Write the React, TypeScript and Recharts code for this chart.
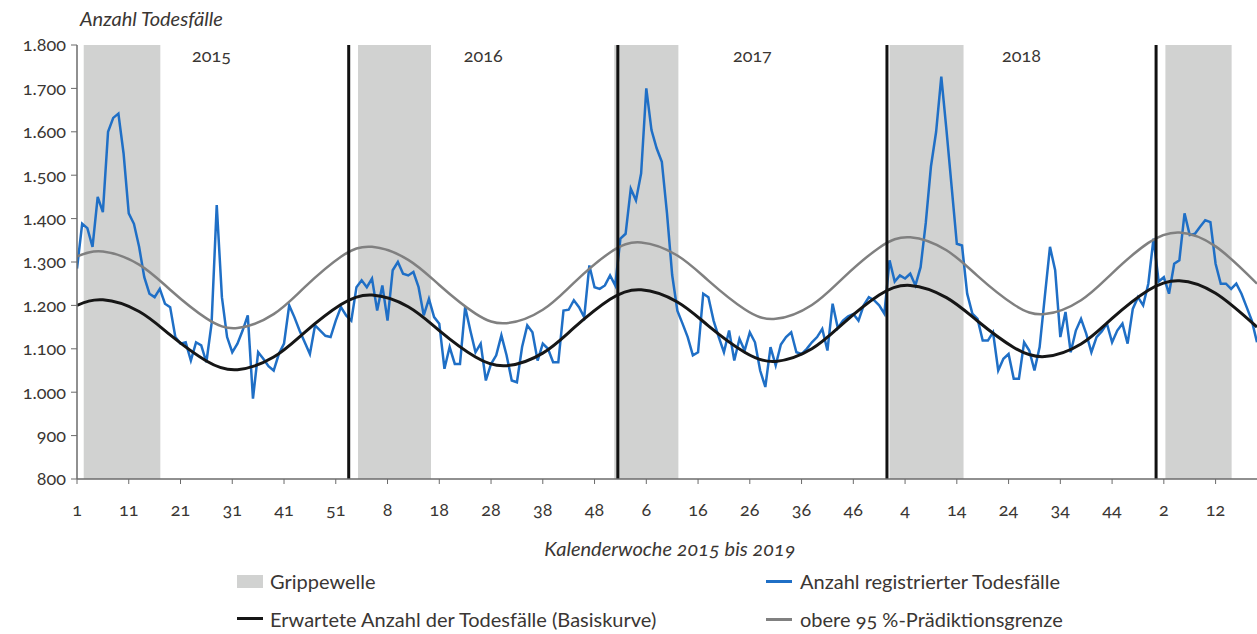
import { ComposedChart, Line, XAxis, YAxis, ReferenceArea, ReferenceLine } from "recharts"

// registered deaths per calendar week
const deaths2015 = [1285, 1388, 1378, 1335, 1450, 1415, 1600, 1632, 1642, 1550, 1412, 1388, 1335, 1265, 1227, 1219, 1238, 1204, 1196, 1127, 1112, 1115, 1073, 1115, 1108, 1069, 1158, 1431, 1219, 1127, 1092, 1112, 1142, 1177, 985, 1092, 1077, 1060, 1050, 1088, 1112, 1200, 1173, 1142, 1115, 1088, 1154, 1142, 1130, 1127, 1165, 1196, 1177]
const deaths2016 = [1165, 1242, 1258, 1242, 1262, 1188, 1246, 1165, 1281, 1300, 1273, 1269, 1277, 1242, 1177, 1215, 1173, 1158, 1054, 1104, 1065, 1065, 1196, 1142, 1092, 1112, 1027, 1065, 1085, 1131, 1085, 1027, 1023, 1104, 1154, 1138, 1073, 1112, 1100, 1069, 1069, 1188, 1190, 1212, 1196, 1173, 1292, 1242, 1238, 1246, 1269, 1246]
const deaths2017 = [1354, 1365, 1469, 1442, 1504, 1700, 1604, 1562, 1531, 1412, 1270, 1188, 1158, 1127, 1085, 1092, 1227, 1219, 1165, 1127, 1092, 1142, 1073, 1123, 1096, 1138, 1115, 1050, 1012, 1104, 1062, 1110, 1127, 1138, 1092, 1088, 1100, 1115, 1127, 1146, 1096, 1204, 1148, 1165, 1175, 1180, 1165, 1200, 1219, 1212, 1200, 1181]
const deaths2018 = [1304, 1255, 1269, 1262, 1273, 1246, 1288, 1390, 1520, 1600, 1727, 1604, 1473, 1342, 1338, 1227, 1181, 1169, 1119, 1119, 1138, 1050, 1077, 1088, 1031, 1031, 1115, 1096, 1050, 1104, 1220, 1335, 1281, 1127, 1185, 1092, 1142, 1169, 1135, 1092, 1127, 1140, 1158, 1115, 1142, 1158, 1112, 1192, 1219, 1200, 1250, 1354]
const deaths2019 = [1255, 1265, 1227, 1296, 1304, 1412, 1362, 1365, 1381, 1396, 1392, 1296, 1250, 1250, 1238, 1250, 1227, 1196, 1165, 1115]

// smooth curves, read about every 6-7 weeks (running week index)
const curveWeeks = [0, 5, 12, 18, 25, 31, 38, 44, 51, 57, 64, 70, 77, 83, 90, 96, 103, 109, 116, 122, 129, 135, 142, 148, 155, 161, 168, 174, 181, 187, 194, 200, 207, 213, 220, 228]
const expected = [1200, 1213, 1186, 1132, 1072, 1052, 1081, 1138, 1202, 1224, 1197, 1142, 1081, 1061, 1090, 1148, 1214, 1236, 1208, 1153, 1092, 1071, 1100, 1158, 1224, 1246, 1218, 1164, 1103, 1082, 1111, 1170, 1235, 1257, 1228, 1150]
const upper = [1313, 1324, 1294, 1236, 1170, 1148, 1180, 1242, 1312, 1335, 1305, 1247, 1181, 1159, 1190, 1252, 1322, 1345, 1315, 1257, 1191, 1169, 1201, 1263, 1333, 1357, 1327, 1268, 1202, 1180, 1212, 1274, 1344, 1368, 1336, 1250]

// flu waves (running week index, start / end)
const fluWaves = [[1.3, 16.1], [54.3, 68.4], [103.8, 116.2], [157.0, 171.3], [210.3, 223.1]]
const yearBreaks = [52.5, 104.5, 156.5, 208.5]
const years = ["2015", "2016", "2017", "2018"]
const yearCenters = [26, 78.5, 130.5, 182.5]

const tickPositions = [0, 10, 20, 30, 40, 50, 60, 70, 80, 90, 100, 110, 120, 130, 140, 150, 160, 170, 180, 190, 200, 210, 220]
const tickLabels = ["1", "11", "21", "31", "41", "51", "8", "18", "28", "38", "48", "6", "16", "26", "36", "46", "4", "14", "24", "34", "44", "2", "12"]
const yTicks = [800, 900, 1000, 1100, 1200, 1300, 1400, 1500, 1600, 1700, 1800]

const allDeaths = [...deaths2015, ...deaths2016, ...deaths2017, ...deaths2018, ...deaths2019]
const data = allDeaths.map((v, i) => {
  const k = curveWeeks.indexOf(i)
  return {
    idx: i,
    deaths: v,
    expected: k >= 0 ? expected[k] : null,
    upper: k >= 0 ? upper[k] : null,
  }
})

const fmtDe = (n: number) =>
  n >= 1000 ? `${Math.floor(n / 1000)}.${String(n % 1000).padStart(3, "0")}` : String(n)

const TEXT = "#3a3633"
const BLUE = "#1f6fc6"
const BAND = "#d1d2d1"

export default function App() {
  const font = "Lato, 'Open Sans', sans-serif"
  const legendText = { position: "absolute" as const, fontSize: 20, color: TEXT, lineHeight: "24px" }

  return (
    <div
      style={{
        position: "absolute",
        left: 0,
        top: 0,
        width: 1257,
        height: 634,
        overflow: "hidden",
        background: "#fff",
        fontFamily: font,
        fontVariantNumeric: "oldstyle-nums",
      }}
    >
      <div style={{ position: "absolute", left: 80, top: 6, fontSize: 20, fontStyle: "italic", color: TEXT }}>
        Anzahl Todesfälle
      </div>

      <ComposedChart width={1257} height={529} data={data} margin={{ top: 45, right: 0, bottom: 0, left: 0 }}>
        {fluWaves.map((w, i) => (
          <ReferenceArea key={`flu-${i}`} x1={w[0]} x2={w[1]} fill={BAND} fillOpacity={1} stroke="none" />
        ))}
        <XAxis
          dataKey="idx"
          type="number"
          domain={[0, 228]}
          ticks={tickPositions}
          interval={0}
          allowDataOverflow
          height={50}
          tickFormatter={(v) => tickLabels[tickPositions.indexOf(v)]}
          tick={{ fill: TEXT, fontSize: 18 }}
          tickSize={5}
          tickMargin={19}
          axisLine={{ stroke: "#6b6b6b", strokeWidth: 1.5 }}
          tickLine={{ stroke: "#6b6b6b" }}
        />
        <YAxis
          domain={[800, 1800]}
          ticks={yTicks}
          interval={0}
          width={77}
          tickFormatter={fmtDe}
          tick={{ fill: TEXT, fontSize: 18 }}
          tickSize={6}
          tickMargin={5}
          axisLine={{ stroke: "#6b6b6b", strokeWidth: 1.5 }}
          tickLine={{ stroke: "#6b6b6b" }}
        />
        <Line dataKey="deaths" stroke={BLUE} strokeWidth={2.5} dot={false} activeDot={false} isAnimationActive={false} type="linear" />
        <Line dataKey="upper" stroke="#808080" strokeWidth={2.5} dot={false} activeDot={false} isAnimationActive={false} type="natural" connectNulls />
        <Line dataKey="expected" stroke="#161616" strokeWidth={3} dot={false} activeDot={false} isAnimationActive={false} type="natural" connectNulls />
        {yearBreaks.map((x, i) => (
          <ReferenceLine key={`yb-${i}`} x={x} stroke="#111" strokeWidth={3} />
        ))}
        {yearCenters.map((x, i) => (
          <ReferenceLine
            key={`yl-${i}`}
            x={x}
            stroke="none"
            label={{ value: years[i], position: "insideTop", offset: 4, fill: TEXT, fontSize: 18 }}
          />
        ))}
      </ComposedChart>

      <div style={{ position: "absolute", left: 0, width: 1340, top: 536, textAlign: "center", fontSize: 20, fontStyle: "italic", color: TEXT }}>
        Kalenderwoche 2015 bis 2019
      </div>

      {/* legend */}
      <div style={{ position: "absolute", left: 237, top: 575, width: 26, height: 13, background: BAND }} />
      <div style={{ ...legendText, left: 270, top: 569 }}>Grippewelle</div>
      <div style={{ position: "absolute", left: 237, top: 617, width: 26, height: 3, background: "#161616" }} />
      <div style={{ ...legendText, left: 270, top: 607 }}>Erwartete Anzahl der Todesfälle (Basiskurve)</div>
      <div style={{ position: "absolute", left: 766, top: 580, width: 26, height: 3, background: BLUE }} />
      <div style={{ ...legendText, left: 800, top: 569 }}>Anzahl registrierter Todesfälle</div>
      <div style={{ position: "absolute", left: 766, top: 618, width: 26, height: 3, background: "#808080" }} />
      <div style={{ ...legendText, left: 800, top: 607 }}>obere 95 %-Prädiktionsgrenze</div>
    </div>
  )
}
